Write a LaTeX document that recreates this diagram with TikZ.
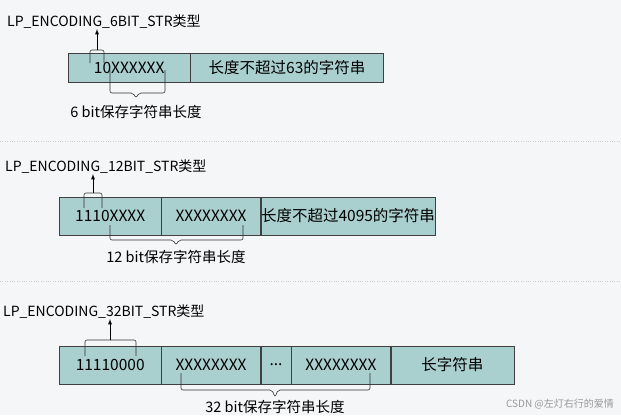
\documentclass[tikz,border=0pt]{standalone}
\usepackage{fontspec}
\setmainfont{Noto Sans CJK SC}
\usetikzlibrary{positioning}
\definecolor{cellfill}{HTML}{A9CFCE}
\definecolor{bgcol}{HTML}{F4F6F8}
\tikzset{
  cell/.style={draw=black!75, fill=cellfill, minimum height=#1, inner sep=0pt, anchor=west, font=\fontsize{15.5}{15.5}\selectfont},
  title/.style={anchor=west, inner sep=0pt, font=\fontsize{14}{14}\selectfont},
  note/.style={inner sep=0pt, font=\fontsize{14.5}{14.5}\selectfont},
  brace/.style={draw=black!80, rounded corners=2pt, line width=0.6pt},
  uparrow/.style={-latex, line width=0.8pt}
}
\begin{document}
\begin{tikzpicture}[x=1pt, y=-1pt]
  % fondo
  \fill[bgcol] (0,0) rectangle (621,415);
  \useasboundingbox (0,0) rectangle (621,415);
  \draw[black!20, dotted] (0,141) -- (621,141);
  \draw[black!20, dotted] (0,281) -- (621,281);

  % 6 bit
  \node[title] (t6) at (7,22) {LP\_ENCODING\_6BIT\_STR类型};
  \node[cell=29pt, minimum width=122pt] (a1) at (68,67.5) {10XXXXXX};
  \node[cell=29pt, minimum width=193pt] (a2) at (a1.east) {长度不超过63的字符串};
  \draw[brace] (90,63) -- (90,50) -- (104,50) -- (104,63);
  \coordinate (p6) at (97,50);
  \draw[uparrow] (p6) -- (t6.south -| p6);
  \draw[brace] (110,70) -- (110,93) -- (133,93) -- (136,98) -- (139,93) -- (165,93) -- (165,70);
  \node[note] (n6) at (136,112) {6 bit保存字符串长度};

  % 12 bit
  \node[title] (t12) at (5,167) {LP\_ENCODING\_12BIT\_STR类型};
  \node[cell=38pt, minimum width=102pt] (b1) at (59,216) {1110XXXX};
  \node[cell=38pt, minimum width=99pt] (b2) at (b1.east) {XXXXXXXX};
  \node[cell=38pt, minimum width=174pt] (b3) at (b2.east) {长度不超过4095的字符串};
  \draw[brace] (84,208) -- (84,193) -- (102,193) -- (102,208);
  \coordinate (p12) at (93,193);
  \draw[uparrow] (p12) -- (t12.south -| p12);
  \draw[brace] (110,225) -- (110,240) -- (173,240) -- (176,245) -- (179,240) -- (243,240) -- (243,225);
  \node[note] (n12) at (176,257) {12 bit保存字符串长度};

  % 32 bit
  \node[title] (t32) at (3,312) {LP\_ENCODING\_32BIT\_STR类型};
  \node[cell=38pt, minimum width=102pt] (c1) at (59,365) {11110000};
  \node[cell=38pt, minimum width=99pt] (c2) at (c1.east) {XXXXXXXX};
  \node[cell=38pt, minimum width=30pt] (c3) at (c2.east) {...};
  \node[cell=38pt, minimum width=99pt] (c4) at (c3.east) {XXXXXXXX};
  \node[cell=38pt, minimum width=123pt] (c5) at (c4.east) {长字符串};
  \draw[brace] (85,356) -- (85,340) -- (136,340) -- (136,356);
  \coordinate (p32) at (110,340);
  \draw[uparrow] (p32) -- (t32.south -| p32);
  \draw[brace] (181,373) -- (181,390) -- (272,390) -- (275,397) -- (278,390) -- (370,390) -- (370,373);
  \node[note] (n32) at (275,407) {32 bit保存字符串长度};

  \node[note, text=black!40, font=\fontsize{10}{10}\selectfont] (wm) at (560,404) {CSDN @左灯右行的爱情};
\end{tikzpicture}
\end{document}
